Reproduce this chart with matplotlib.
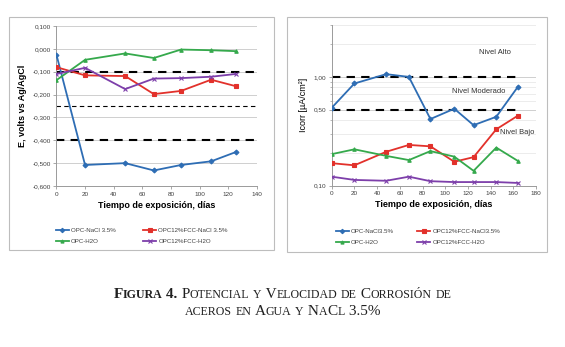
import numpy as np
import matplotlib
matplotlib.use("Agg")
import matplotlib.pyplot as plt
from matplotlib.patches import Rectangle
from matplotlib.ticker import FixedLocator, NullFormatter

plt.rcParams['font.family'] = ['Liberation Sans', 'DejaVu Sans']

# left chart: potential
dias_e = [0, 20, 48, 68, 87, 108, 125]
e_opc_nacl = [-0.025, -0.508, -0.500, -0.532, -0.508, -0.492, -0.452]
e_fcc_nacl = [-0.080, -0.116, -0.119, -0.198, -0.184, -0.135, -0.163]
e_opc_h2o = [-0.137, -0.048, -0.020, -0.040, -0.003, -0.006, -0.010]
e_fcc_h2o = [-0.110, -0.083, -0.176, -0.130, -0.128, -0.122, -0.110]
e_niveles = [-0.100, -0.400]
e_nivel_medio = -0.250

# right chart: corrosion rate
dias_i = [0, 20, 48, 68, 87, 108, 125, 145, 164]
i_opc_nacl = [0.52, 0.87, 1.06, 1.00, 0.41, 0.51, 0.36, 0.43, 0.81]
i_fcc_nacl = [0.161, 0.154, 0.205, 0.237, 0.230, 0.166, 0.183, 0.33, 0.44]
i_opc_h2o = [0.195, 0.216, 0.188, 0.172, 0.208, 0.185, 0.137, 0.224, 0.169]
i_fcc_h2o = [0.121, 0.113, 0.111, 0.121, 0.110, 0.108, 0.108, 0.108, 0.106]
i_niveles = [1.0, 0.5]

labels_left = ["OPC-NaCl 3.5%", "OPC12%FCC-NaCl 3.5%", "OPC-H2O", "OPC12%FCC-H2O"]
labels_right = ["OPC-NaCl3.5%", "OPC12%FCC-NaCl3.5%", "OPC-H2O", "OPC12%FCC-H2O"]

colors = ["#2E6DB4", "#E2312B", "#35A94C", "#7D3FAA"]
markers = ["D", "s", "^", "x"]

W, H = 565, 347
fig = plt.figure(figsize=(W / 100, H / 100), dpi=100)


def px_box(x0, y0, x1, y1):
    return [x0 / W, 1 - y1 / H, (x1 - x0) / W, (y1 - y0) / H]


# chart frames
for (x0, y0, x1, y1) in [(9, 17, 274, 250), (287, 17, 547, 252)]:
    fig.patches.append(Rectangle((x0 / W, 1 - y1 / H), (x1 - x0) / W, (y1 - y0) / H,
                                 transform=fig.transFigure, fill=False,
                                 edgecolor="#BDBDBD", lw=0.8))

tick_col = "#404040"
grid_col = "#C8C8C8"

# ---------- left ----------
ax1 = fig.add_axes(px_box(56.4, 26, 257, 186))
series = [e_opc_nacl, e_fcc_nacl, e_opc_h2o, e_fcc_h2o]
h1 = []
for vals, c, m, lab in zip(series, colors, markers, labels_left):
    ln, = ax1.plot(dias_e, vals, color=c, lw=1.3, marker=m,
                   ms=2.5 if m != "x" else 3, mew=0.8, label=lab, zorder=3)
    h1.append(ln)
for y in e_niveles:
    ax1.axhline(y, color="black", lw=1.5, ls=(0, (4, 3)), zorder=2)
ax1.axhline(e_nivel_medio, color="black", lw=0.8, ls=(0, (4, 3)), zorder=2)
ax1.set_xlim(0, 140)
ax1.set_ylim(-0.6, 0.1)
ax1.set_xticks(np.arange(0, 141, 20))
ax1.set_yticks(np.arange(-0.6, 0.101, 0.1))
ax1.set_yticklabels([("%.3f" % v).replace(".", ",").replace("-0,000", "0,000")
                     for v in np.arange(-0.6, 0.101, 0.1)])
ax1.grid(axis="y", color=grid_col, lw=0.6)
ax1.set_axisbelow(True)
ax1.set_xlabel("Tiempo de exposición, días", fontsize=6.5, fontweight="bold", labelpad=3)
ax1.set_ylabel("E, volts vs Ag/AgCl", fontsize=6.5, fontweight="bold", labelpad=4)

# ---------- right ----------
ax2 = fig.add_axes(px_box(331.7, 25, 536, 185.7))
series = [i_opc_nacl, i_fcc_nacl, i_opc_h2o, i_fcc_h2o]
h2 = []
for vals, c, m, lab in zip(series, colors, markers, labels_right):
    ln, = ax2.plot(dias_i, vals, color=c, lw=1.3, marker=m,
                   ms=2.5 if m != "x" else 3, mew=0.8, label=lab, zorder=3)
    h2.append(ln)
for y in i_niveles:
    ax2.plot([0, dias_i[-1]], [y, y], color="black", lw=1.5, ls=(0, (4, 3)), zorder=2)
ax2.set_yscale("log")
ax2.set_xlim(0, 180)
ax2.set_ylim(0.1, 3.0)
ax2.set_xticks(np.arange(0, 181, 20))
ax2.yaxis.set_major_locator(FixedLocator([0.1, 0.5, 1.0]))
ax2.set_yticklabels(["0,10", "0,50", "1,00"])
ax2.yaxis.set_minor_locator(FixedLocator([0.2, 0.3, 0.4, 0.6, 0.7, 0.8, 0.9, 2.0, 3.0]))
ax2.yaxis.set_minor_formatter(NullFormatter())
ax2.grid(axis="y", which="major", color=grid_col, lw=0.6)
ax2.grid(axis="y", which="minor", color="#E4E4E4", lw=0.5)
ax2.set_axisbelow(True)
ax2.set_xlabel("Tiempo de exposición, días", fontsize=6.5, fontweight="bold", labelpad=3)
ax2.set_ylabel("Icorr [µA/cm²]", fontsize=6.5, labelpad=4)
ax2.text(130, 1.69, "Nivel Alto", fontsize=5.4, color="#303030", va="center")
ax2.text(106, 0.73, "Nivel Moderado", fontsize=5.4, color="#303030", va="center")
ax2.text(148, 0.31, "Nivel Bajo", fontsize=5.4, color="#303030", va="center")

for ax in (ax1, ax2):
    for s in ("top", "right"):
        ax.spines[s].set_visible(False)
    for s in ("left", "bottom"):
        ax.spines[s].set_color("#9A9A9A")
        ax.spines[s].set_linewidth(0.7)
    ax.tick_params(labelsize=4.6, colors="#9A9A9A", labelcolor=tick_col,
                   length=2, width=0.6, pad=2)
    ax.tick_params(which="minor", length=1.5, width=0.5, colors="#9A9A9A")

# legends (column-wise fill: blue, green | red, purple)
order = [0, 2, 1, 3]
fig.legend([h1[i] for i in order], [labels_left[i] for i in order],
           loc="center left", bbox_to_anchor=(50 / W, 1 - 236 / H), ncol=2,
           frameon=False, fontsize=4.4, handlelength=2.2, columnspacing=4.5,
           labelspacing=0.9, handletextpad=0.3, markerscale=0.9,
           labelcolor="#404040")
fig.legend([h2[i] for i in order], [labels_right[i] for i in order],
           loc="center left", bbox_to_anchor=(330 / W, 1 - 237 / H), ncol=2,
           frameon=False, fontsize=4.4, handlelength=2.2, columnspacing=3.8,
           labelspacing=0.9, handletextpad=0.3, markerscale=0.9,
           labelcolor="#404040")


# caption in small caps: uppercase letters big, lowercase drawn as smaller capitals
def place_line(parts, y_px, big=11, small=8.6):
    runs = []
    for line, bold in parts:
        cur, cur_big = "", None
        for ch in line:
            b = not ch.islower()
            if cur_big is None or b == cur_big:
                cur += ch
            else:
                runs.append((cur, cur_big, bold))
                cur = ch
            cur_big = b
        runs.append((cur, cur_big, bold))
    r = fig.canvas.get_renderer()
    arts = []
    for s, b, bold in runs:
        t = fig.text(0, 1 - y_px / H, s.upper(), fontsize=big if b else small,
                     family="Liberation Serif", color="#202020", va="baseline",
                     fontweight="bold" if bold else "normal")
        arts.append(t)
    widths = [a.get_window_extent(r).width for a in arts]
    x = (W - sum(widths)) / 2
    for a, w in zip(arts, widths):
        a.set_x(x / W)
        x += w


place_line([("Figura 4.", True), (" Potencial y Velocidad de Corrosión de", False)], 298)
place_line([("aceros en Agua y NaCl 3.5%", False)], 315)

fig.savefig("out.png", dpi=100)
